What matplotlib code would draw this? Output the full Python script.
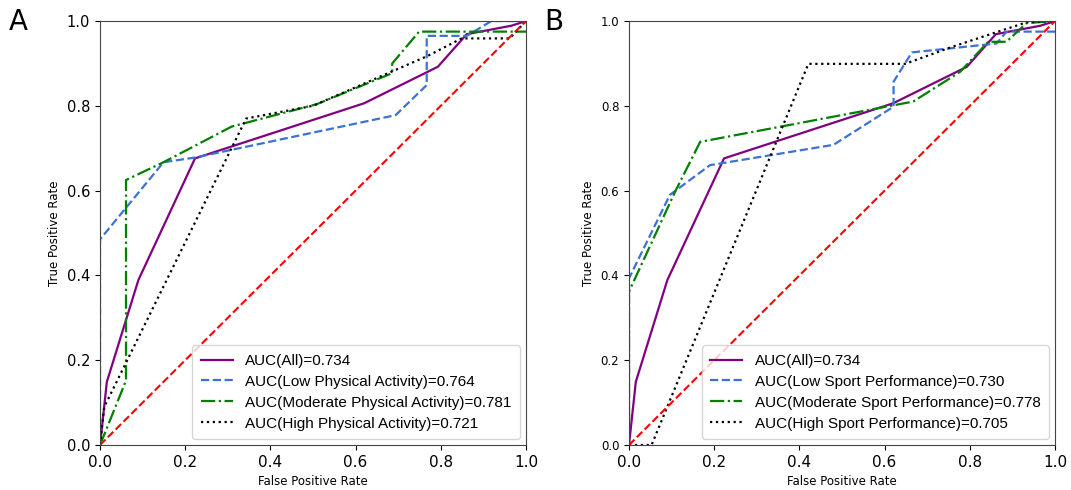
import matplotlib
matplotlib.use("Agg")
import matplotlib.pyplot as plt

# ---- Panel A data ----
all_fpr = [0.0, 0.016, 0.09, 0.223, 0.62, 0.793, 0.861, 0.966, 1.0]
all_tpr = [0.0, 0.149, 0.389, 0.676, 0.806, 0.892, 0.969, 0.989, 1.0]

lowpa_fpr = [0.0, 0.0, 0.149, 0.223, 0.694, 0.767, 0.767, 0.861, 0.919, 1.0]
lowpa_tpr = [0.0, 0.485, 0.667, 0.678, 0.778, 0.849, 0.965, 0.965, 1.0, 1.0]

modpa_fpr = [0.0, 0.061, 0.061, 0.149, 0.309, 0.509, 0.686, 0.686, 0.749, 1.0]
modpa_tpr = [0.0, 0.152, 0.625, 0.667, 0.751, 0.804, 0.877, 0.900, 0.975, 0.975]

highpa_fpr = [0.0, 0.01, 0.343, 0.50, 0.77, 0.849, 0.962, 1.0]
highpa_tpr = [0.0, 0.09, 0.770, 0.800, 0.918, 0.959, 0.959, 1.0]

labels_a = ["AUC(All)=0.734", "AUC(Low Physical Activity)=0.764",
            "AUC(Moderate Physical Activity)=0.781", "AUC(High Physical Activity)=0.721"]

# ---- Panel B data ----
lowsp_fpr = [0.0, 0.0, 0.096, 0.190, 0.480, 0.621, 0.621, 0.664, 0.863, 0.886, 1.0]
lowsp_tpr = [0.0, 0.393, 0.590, 0.660, 0.708, 0.798, 0.857, 0.926, 0.947, 0.975, 0.975]

modsp_fpr = [0.0, 0.0, 0.108, 0.167, 0.667, 0.777, 0.843, 0.886, 0.933, 1.0]
modsp_tpr = [0.0, 0.362, 0.597, 0.715, 0.810, 0.880, 0.951, 0.951, 0.995, 1.0]

highsp_fpr = [0.0, 0.053, 0.421, 0.648, 0.761, 0.933, 1.0]
highsp_tpr = [0.0, 0.0, 0.899, 0.899, 0.940, 0.997, 1.0]

labels_b = ["AUC(All)=0.734", "AUC(Low Sport Performance)=0.730",
            "AUC(Moderate Sport Performance)=0.778", "AUC(High Sport Performance)=0.705"]

diag = [0.0, 1.0]

fig = plt.figure(figsize=(10.71, 4.9), dpi=100)
axA = fig.add_axes([0.0934, 0.0918, 0.3977, 0.8653])
axB = fig.add_axes([0.5873, 0.0918, 0.3978, 0.8653])

styles = [dict(color="purple", ls="-", lw=1.6),
          dict(color="#3a72d8", ls="--", lw=1.6),
          dict(color="green", ls="-.", lw=1.6),
          dict(color="black", ls=":", lw=1.6)]

def draw(ax, curves, labels, ytick_fs):
    for (x, y), st, lab in zip(curves, styles, labels):
        ax.plot(x, y, label=lab, **st)
    ax.plot(diag, diag, color="red", ls="--", lw=1.5)
    ax.set_xlim(0, 1)
    ax.set_ylim(0, 1)
    ax.set_xlabel("False Positive Rate", fontsize=8.5)
    ax.set_ylabel("True Positive Rate", fontsize=8.5)
    ax.tick_params(axis="x", labelsize=11)
    ax.tick_params(axis="y", labelsize=ytick_fs)
    ax.legend(loc="lower right", prop={"family": "Liberation Sans", "size": 11},
              handlelength=2.1, labelspacing=0.45, borderpad=0.55,
              framealpha=0.8, borderaxespad=0.4)
    for s in ax.spines.values():
        s.set_color("#444444")

draw(axA, [(all_fpr, all_tpr), (lowpa_fpr, lowpa_tpr),
           (modpa_fpr, modpa_tpr), (highpa_fpr, highpa_tpr)], labels_a, 10.5)
draw(axB, [(all_fpr, all_tpr), (lowsp_fpr, lowsp_tpr),
           (modsp_fpr, modsp_tpr), (highsp_fpr, highsp_tpr)], labels_b, 8.5)

fig.text(0.008, 0.955, "A", fontsize=20, va="center", ha="left")
fig.text(0.508, 0.955, "B", fontsize=20, va="center", ha="left")

fig.savefig("out.png", dpi=100)
